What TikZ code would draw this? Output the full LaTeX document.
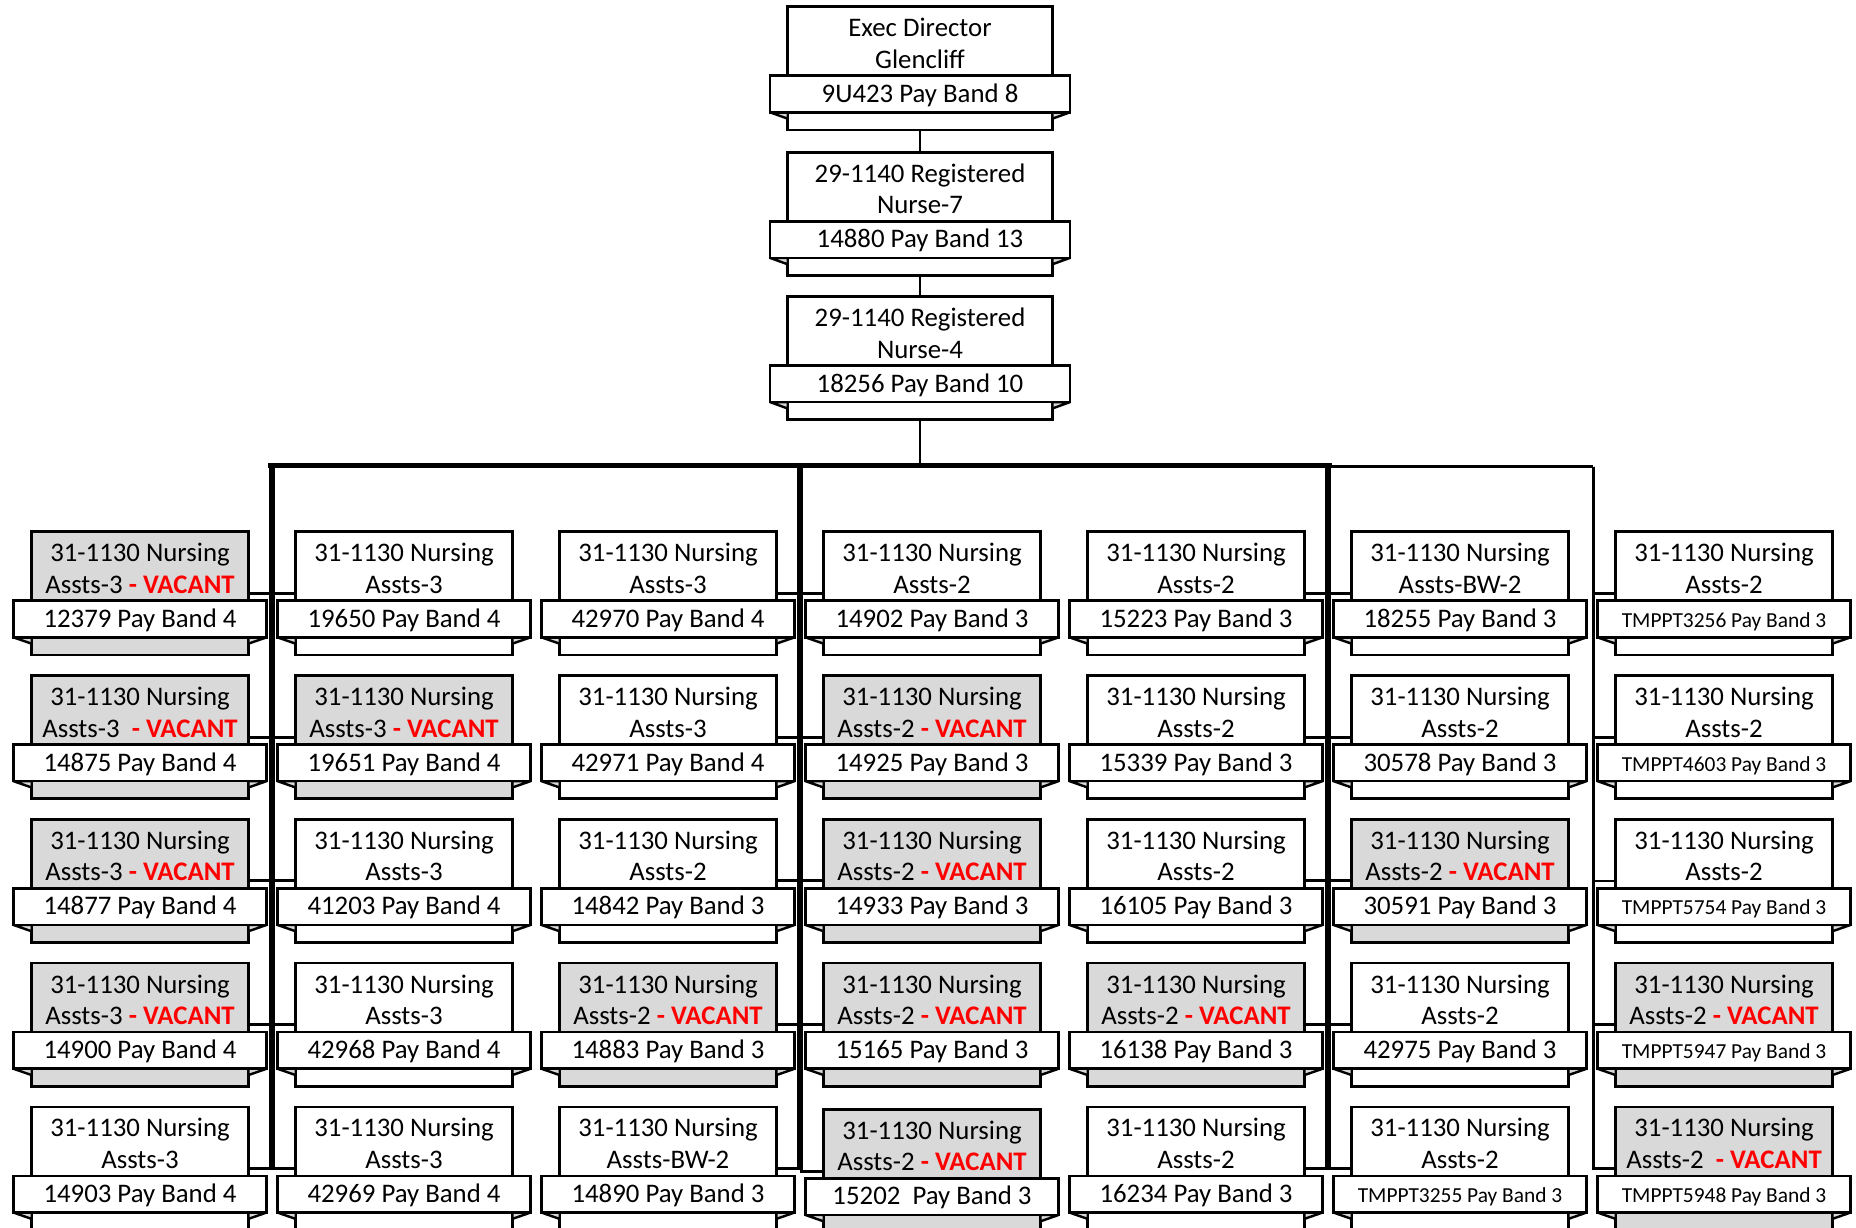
\documentclass[tikz,border=0pt]{standalone}
\usepackage{fontspec}
\setmainfont{Carlito}
\definecolor{vgray}{RGB}{217,217,217}
\definecolor{vred}{RGB}{255,0,0}
\tikzset{
  boxln/.style={draw=black, line width=1.35pt, line join=miter, inner sep=0pt, outer sep=0pt},
  foldln/.style={draw=black, line width=1.2pt, line join=bevel, fill=vgray},
  conn/.style={draw=black, line width=1.35pt},
  vconn/.style={draw=black, line width=1.5pt},
  bus/.style={draw=black, line width=2.5pt},
  lbl/.style={inner sep=0pt, outer sep=0pt, anchor=base, font=\fontsize{13.4}{16}\selectfont},
}
\newcommand\vac{\textcolor{vred}{\bfseries - VACANT}}
\newcommand\tmpf{\fontsize{10.7}{13}\selectfont}
% name, cx, top, half box width, half strip width, fill, line1, line2, band
\newcommand\obox[9]{%
  \node[boxln, fill=#6, minimum width=#4pt, minimum height=61.65pt, anchor=north] (#1) at (#2,#3) {};
  \path[foldln] (#2-#5,#3+105.6) -- (#2-#4,#3+105.6) -- (#2-#4,#3+112) -- cycle;
  \path[foldln] (#2+#5,#3+105.6) -- (#2+#4,#3+105.6) -- (#2+#4,#3+112) -- cycle;
  \node[boxln, fill=white, minimum width=#5pt, minimum height=18.3pt, anchor=north] (#1-band) at (#2,#3+69) {};
  \node[lbl] (#1-a) at (#2,#3+30) {#7};
  \node[lbl] (#1-b) at (#2,#3+61.6) {#8};
  \node[lbl] (#1-c) at (#2,#3+95.6) {#9};
}
% name, col, row, fill, line2, band
\newcommand\nb[6]{%
  \pgfmathsetmacro\cx{140+264*(#2-1)}%
  \pgfmathsetmacro\ty{531.7+143.8*(#3-1)}%
  \obox{#1}{\cx}{\ty}{108.3}{126.7}{#4}{31-1130 Nursing}{#5}{#6}}
\begin{document}
\begin{tikzpicture}[x=0.5pt,y=-0.5pt]
\useasboundingbox (0,0) rectangle (1856,1227);
\clip (0,0) rectangle (1856,1227);
\fill[white] (0,0) rectangle (1856,1227);

% top chain
\obox{exec}{920}{6.7}{132.3}{150}{white}{Exec Director}{Glencliff}{9U423 Pay Band 8}
\obox{rn7}{920}{152.3}{132.3}{150}{white}{29-1140 Registered}{Nurse-7}{14880 Pay Band 13}
\obox{rn4}{920}{296.5}{132.3}{150}{white}{29-1140 Registered}{Nurse-4}{18256 Pay Band 10}

% column 1
\nb{c1r1}{1}{1}{vgray}{Assts-3 \vac}{12379 Pay Band 4}
\nb{c1r2}{1}{2}{vgray}{Assts-3\ \ \vac}{14875 Pay Band 4}
\nb{c1r3}{1}{3}{vgray}{Assts-3 \vac}{14877 Pay Band 4}
\nb{c1r4}{1}{4}{vgray}{Assts-3 \vac}{14900 Pay Band 4}
\nb{c1r5}{1}{5}{white}{Assts-3}{14903 Pay Band 4}
% column 2
\nb{c2r1}{2}{1}{white}{Assts-3}{19650 Pay Band 4}
\nb{c2r2}{2}{2}{vgray}{Assts-3 \vac}{19651 Pay Band 4}
\nb{c2r3}{2}{3}{white}{Assts-3}{41203 Pay Band 4}
\nb{c2r4}{2}{4}{white}{Assts-3}{42968 Pay Band 4}
\nb{c2r5}{2}{5}{white}{Assts-3}{42969 Pay Band 4}
% column 3
\nb{c3r1}{3}{1}{white}{Assts-3}{42970 Pay Band 4}
\nb{c3r2}{3}{2}{white}{Assts-3}{42971 Pay Band 4}
\nb{c3r3}{3}{3}{white}{Assts-2}{14842 Pay Band 3}
\nb{c3r4}{3}{4}{vgray}{Assts-2 \vac}{14883 Pay Band 3}
\nb{c3r5}{3}{5}{white}{Assts-BW-2}{14890 Pay Band 3}
% column 4
\nb{c4r1}{4}{1}{white}{Assts-2}{14902 Pay Band 3}
\nb{c4r2}{4}{2}{vgray}{Assts-2 \vac}{14925 Pay Band 3}
\nb{c4r3}{4}{3}{vgray}{Assts-2 \vac}{14933 Pay Band 3}
\nb{c4r4}{4}{4}{vgray}{Assts-2 \vac}{15165 Pay Band 3}
\nb{c4r5}{4}{5.017}{vgray}{Assts-2 \vac}{15202\ \ Pay Band 3}
% column 5
\nb{c5r1}{5}{1}{white}{Assts-2}{15223 Pay Band 3}
\nb{c5r2}{5}{2}{white}{Assts-2}{15339 Pay Band 3}
\nb{c5r3}{5}{3}{white}{Assts-2}{16105 Pay Band 3}
\nb{c5r4}{5}{4}{vgray}{Assts-2 \vac}{16138 Pay Band 3}
\nb{c5r5}{5}{5}{white}{Assts-2}{16234 Pay Band 3}
% column 6
\nb{c6r1}{6}{1}{white}{Assts-BW-2}{18255 Pay Band 3}
\nb{c6r2}{6}{2}{white}{Assts-2}{30578 Pay Band 3}
\nb{c6r3}{6}{3}{vgray}{Assts-2 \vac}{30591 Pay Band 3}
\nb{c6r4}{6}{4}{white}{Assts-2}{42975 Pay Band 3}
\nb{c6r5}{6}{5}{white}{Assts-2}{{\tmpf TMPPT3255 Pay Band 3}}
% column 7
\nb{c7r1}{7}{1}{white}{Assts-2}{{\tmpf TMPPT3256 Pay Band 3}}
\nb{c7r2}{7}{2}{white}{Assts-2}{{\tmpf TMPPT4603 Pay Band 3}}
\nb{c7r3}{7}{3}{white}{Assts-2}{{\tmpf TMPPT5754 Pay Band 3}}
\nb{c7r4}{7}{4}{vgray}{Assts-2 \vac}{{\tmpf TMPPT5947 Pay Band 3}}
\nb{c7r5}{7}{5}{vgray}{Assts-2\ \ \vac}{{\tmpf TMPPT5948 Pay Band 3}}

% connectors
\coordinate (hub) at (920,465.5);
\coordinate (busL) at (268,465.5);
\coordinate (busR) at (1331.5,465.5);
\coordinate (busB) at (990,466.7);
\coordinate (g4) at (1593.3,466.7);
\coordinate (g1L) at (270.5,465.5);
\coordinate (g1R) at (273.5,465.5);
\coordinate (g2L) at (798.5,465.5);
\coordinate (g2R) at (801.5,465.5);
\coordinate (g3L) at (1326.5,465.5);
\coordinate (g3R) at (1329.5,465.5);

\draw[conn] (exec.south) -- (rn7.north);
\draw[conn] (rn7.south) -- (rn4.north);
\draw[conn] (rn4.south) -- (hub);
\draw[bus] (busL) -- (busR);
\draw[conn, line width=1.6pt] (busB) -- (g4);
\foreach \r in {1,...,5}{
  \draw[vconn] (g1L) |- (c1r\r.east);
  \draw[vconn] (g1R) |- (c2r\r.west);
  \draw[vconn] (g2L) |- (c3r\r.east);
  \draw[vconn] (g2R) |- (c4r\r.west);
  \draw[vconn] (g3L) |- (c5r\r.east);
  \draw[vconn] (g3R) |- (c6r\r.west);
  \draw[conn] (g4) |- (c7r\r.west);
}
\end{tikzpicture}
\end{document}
